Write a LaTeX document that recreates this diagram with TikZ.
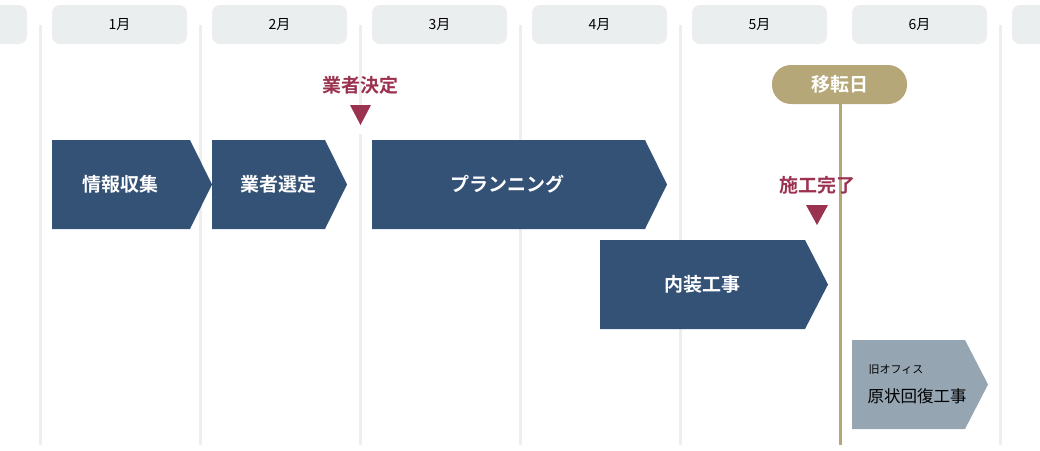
\documentclass[tikz,border=0pt]{standalone}
\usepackage{fontspec}
\setmainfont{Noto Sans CJK JP}
\newfontfamily\jpb{Noto Sans CJK JP Bold}
\definecolor{navy}{HTML}{345176}
\definecolor{grey}{HTML}{95A5B2}
\definecolor{hdr}{HTML}{EBEEEF}
\definecolor{vline}{HTML}{EEEEEE}
\definecolor{gold}{HTML}{B5A777}
\definecolor{wine}{HTML}{9B3350}
\begin{document}
\begin{tikzpicture}[x=1pt,y=-1pt,
  hdrbox/.style={fill=hdr,rounded corners=8pt},
  chev/.style={fill=navy},
  milestone/.style={text=wine,font=\jpb\fontsize{19}{19}\selectfont},
  lbl/.style={text=white,font=\jpb\fontsize{19}{19}\selectfont}]
\useasboundingbox (0,0) rectangle (1040,450);
\foreach \x in {40,200,360,520,680,1000} \draw[vline,line width=3pt] (\x,25) -- (\x,445);
\fill[white] (356,118) rectangle (364,134);
\foreach \x/\m in {52/1,212/2,372/3,532/4,692/5,852/6} {
  \fill[hdrbox] (\x,5) rectangle (\x+135,44);
  \node[font=\fontsize{14}{14}\selectfont] (m\m) at (\x+67.5,24.5) {\m 月};
}
\fill[hdrbox] (-20,5) rectangle (27,44);
\fill[hdrbox] (1012,5) rectangle (1060,44);
\draw[gold,line width=3pt] (840,80) -- (840,445);
\fill[gold,rounded corners=19pt] (772,65) rectangle (907,104);
\node[text=white,font=\jpb\fontsize{19}{19}\selectfont] (iten) at (839.5,84.5) {移転日};
\fill[chev] (52,140) -- (190,140) -- (212,184.5) -- (190,229) -- (52,229) -- cycle;
\node[lbl] (a1) at (120,184.5) {情報収集};
\fill[chev] (212,140) -- (325,140) -- (347,184.5) -- (325,229) -- (212,229) -- cycle;
\node[lbl] (a2) at (278,184.5) {業者選定};
\fill[chev] (372,140) -- (645,140) -- (667,184.5) -- (645,229) -- (372,229) -- cycle;
\node[lbl] (a3) at (507,184.5) {プランニング};
\fill[chev] (600,240) -- (805,240) -- (828,284.5) -- (805,329) -- (600,329) -- cycle;
\node[lbl] (a4) at (702,284.5) {内装工事};
\fill[grey] (852,340) -- (965,340) -- (988,384.5) -- (965,429) -- (852,429) -- cycle;
\node[anchor=west,font=\fontsize{11}{11}\selectfont] (a5a) at (865,370) {旧オフィス};
\node[anchor=west,font=\fontsize{16.5}{16.5}\selectfont] (a5b) at (864,396) {原状回復工事};
\node[milestone] (k1) at (360,85) {業者決定};
\fill[wine] (350,105) -- (371,105) -- (360.5,125) -- cycle;
\node[milestone] (k2) at (817,185) {施工完了};
\fill[wine] (806,205) -- (828,205) -- (817,225) -- cycle;
\end{tikzpicture}
\end{document}
